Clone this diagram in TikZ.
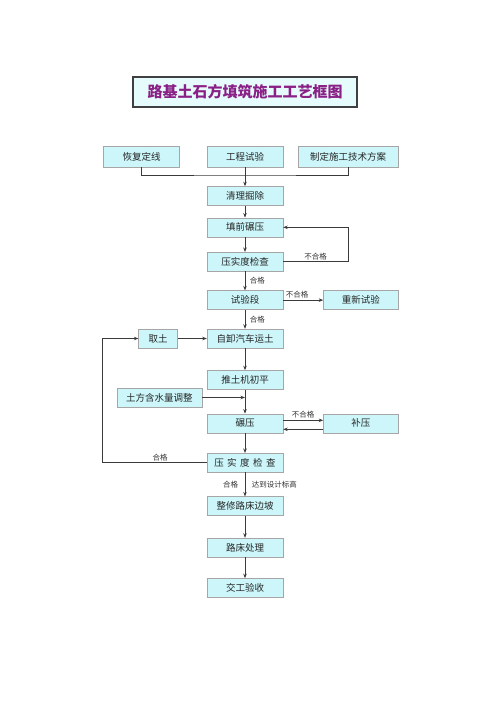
\documentclass[tikz,border=0pt]{standalone}
\usepackage{fontspec}
\newfontfamily\cjk{Noto Sans CJK SC}
\usetikzlibrary{arrows.meta, positioning}
\definecolor{boxfill}{HTML}{CCF6FA}
\definecolor{titlefill}{HTML}{E6FBFB}
\definecolor{titleink}{HTML}{8A1F86}
\definecolor{wire}{HTML}{3A3A3A}
\begin{document}
\begin{tikzpicture}[
        x=1pt, y=1pt,
        node distance=12pt,
        block/.style={rectangle, draw=gray!70, fill=boxfill, text=black!85, minimum width=76pt, minimum height=19pt, inner sep=0pt, font=\cjk\fontsize{9.5}{10}\selectfont},
        titlebox/.style={rectangle, draw=black!75, line width=1.6pt, fill=titlefill, text=titleink, minimum width=224pt, minimum height=30pt, font=\cjk\bfseries\fontsize{15}{16}\selectfont},
        note/.style={font=\cjk\fontsize{7.5}{8}\selectfont, text=black!80, inner sep=1.5pt},
        line/.style={draw=wire, line width=0.8pt, -{Stealth[length=4.5pt, width=3.5pt]}},
        link/.style={draw=wire, line width=0.8pt}
    ]
        \useasboundingbox (0,0) rectangle (500,-707);

        % Title
        \node [titlebox] (title) at (245,-92) {路基土石方填筑施工工艺框图};

        % Preparation
        \node [block, minimum height=21pt] (survey) at (245,-156.5) {工程试验};
        \node [block, minimum height=21pt] (stake) at (141.5,-156.5) {恢复定线};
        \node [block, minimum height=21pt, minimum width=100pt] (plan) at (348,-156.5) {制定施工技术方案};
        \coordinate (join) at (245,-175);

        \path [link] (stake.south) |- (join) -| (plan.south);

        % Base treatment
        \node [block, below=19pt of survey] (clear) {清理掘除};
        \node [block, below=12pt of clear] (precomp) {填前碾压};
        \node [block, below=15pt of precomp] (check1) {压实度检查};
        \node [block, below=19pt of check1] (trial) {试验段};
        \node [block, minimum width=75pt, right=40pt of trial] (retrial) {重新试验};

        \path [line] (survey) -- (clear);
        \path [line] (clear) -- (precomp);
        \path [line] (precomp) -- (check1);
        \path [line] (check1.east) -- ++(65,0) node [note, pos=0.5, above] {不合格} |- (precomp.east);
        \path [line] (check1) -- node [note, right=3pt] {合格} (trial);
        \path [line] (trial) -- node [note, pos=0.35, above] {不合格} (retrial);

        % Filling
        \node [block, below=19pt of trial] (haul) {自卸汽车运土};
        \node [block, minimum width=39pt, left=29pt of haul] (borrow) {取土};
        \node [block, below=22pt of haul] (level) {推土机初平};
        \node [block, below=24pt of level] (roll) {碾压};
        \node [block, minimum width=85pt, anchor=east] (moist) at (202,-397.5) {土方含水量调整};
        \node [block, minimum width=75pt, right=40pt of roll] (rerollbox) {补压};
        \node [block, below=20pt of roll] (check2) {压\hspace{3.5pt}实\hspace{3.5pt}度\hspace{3.5pt}检\hspace{3.5pt}查};
        \coordinate (merge) at (245,-397.5);

        \path [line] (trial) -- node [note, right=3pt] {合格} (haul);
        \path [line] (borrow) -- (haul);
        \path [line] (haul) -- (level);
        \path [line] (level) -- (roll);
        \path [line] (moist) -- (merge);
        \path [line] ([yshift=3pt]roll.east) -- node [note, above] {不合格} ([yshift=3pt]rerollbox.west);
        \path [line] ([yshift=-6pt]rerollbox.west) -- ([yshift=-6pt]roll.east);
        \path [line] (roll) -- (check2);
        \path [line] (check2.west) -- ++(-104,0) node [note, pos=0.45, above] {合格} |- (borrow.west);

        % Finishing
        \node [block, below=24pt of check2] (slope) {整修路床边坡};
        \node [block, below=22pt of slope] (bed) {路床处理};
        \node [block, below=21pt of bed] (accept) {交工验收};

        \path [line] (check2) -- node [note, left=5pt] {合格} node [note, right=5pt] {达到设计标高} (slope);
        \path [line] (slope) -- (bed);
        \path [line] (bed) -- (accept);

    \end{tikzpicture}
\end{document}
